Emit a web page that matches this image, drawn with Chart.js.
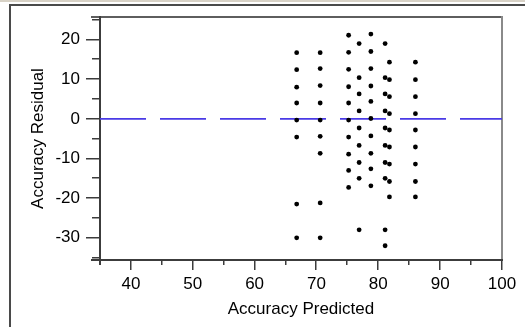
<!DOCTYPE html>
<html>
<head>
<meta charset="utf-8">
<script src="https://cdn.jsdelivr.net/npm/chart.js@4.4.1/dist/chart.umd.min.js"></script>
<style>
  html, body { margin: 0; padding: 0; background: #fff; overflow: hidden; }
  #wrap { width: 525px; height: 327px; }
</style>
</head>
<body>
<div id="wrap"><canvas id="residChart" width="525" height="327"></canvas></div>
<script>
// predicted accuracy (x) and residual (y) for every point, column by column
const predicted = [
  66.8, 66.8, 66.8, 66.8, 66.8, 66.8, 66.8, 66.8,
  70.6, 70.6, 70.6, 70.6, 70.6, 70.6, 70.6, 70.6, 70.6,
  75.2, 75.2, 75.2, 75.2, 75.2, 75.2, 75.2, 75.2, 75.2, 75.2,
  76.9, 76.9, 76.9, 76.9, 76.9, 76.9, 76.9, 76.9, 76.9,
  78.8, 78.8, 78.8, 78.8, 78.8, 78.8, 78.8, 78.8, 78.8, 78.8,
  81.1, 81.1, 81.1, 81.1, 81.1, 81.1, 81.1, 81.1, 81.1, 81.1,
  81.8, 81.8, 81.8, 81.8, 81.8, 81.8, 81.8, 81.8, 81.8,
  86.0, 86.0, 86.0, 86.0, 86.0, 86.0, 86.0, 86.0, 86.0
];
const residual = [
  16.7, 12.4, 8.0, 4.0, -0.3, -4.6, -21.5, -30.0,
  16.7, 12.7, 8.4, 4.0, -0.3, -4.4, -8.7, -21.2, -30.0,
  21.1, 16.8, 12.5, 8.1, 4.0, -0.3, -4.6, -8.9, -13.0, -17.3,
  19.0, 10.4, 6.3, 2.0, -2.3, -6.7, -11.0, -15.0, -28.0,
  21.4, 17.0, 12.7, 8.3, 4.4, 0.1, -4.3, -8.7, -12.6, -16.9,
  19.0, 10.4, 6.3, 2.0, -2.3, -6.7, -11.0, -15.0, -28.0, -32.0,
  14.3, 9.9, 5.6, 1.3, -2.8, -7.1, -11.4, -15.8, -19.7,
  14.3, 9.9, 5.6, 1.3, -2.8, -7.1, -11.4, -15.8, -19.7
];

// axes
const xRange = [35, 100];
const yRange = [-35.6, 25.7];
const xTicks = [40, 50, 60, 70, 80, 90, 100];
const yTicks = [-30, -20, -10, 0, 10, 20];
const xMinor = [35, 45, 55, 65, 75, 85, 95];
const yMinor = [-35, -25, -15, -5, 5, 15, 25];
const zeroLine = 0;

const points = predicted.map((p, i) => ({ x: p, y: residual[i] }));

// frame, tick marks and the page border lines (as in the original screenshot)
const framePlugin = {
  id: "frame",
  beforeDatasetsDraw(chart) {
    const c = chart.ctx;
    const { left, right, top, bottom } = chart.chartArea;
    const xs = chart.scales.x;
    const ys = chart.scales.y;
    c.save();
    // window border
    c.fillStyle = "#d8d2c6";
    c.fillRect(0, 0, 525, 2);
    c.fillStyle = "#4a4a4a";
    c.fillRect(10, 4, 515, 2);
    c.fillRect(9, 4, 2, 323);
    // top + right frame
    c.fillStyle = "#5e5e5e";
    c.fillRect(left - 9, top - 1, right - left + 10, 2);
    c.fillStyle = "#8a8a8a";
    c.fillRect(right - 1, top - 1, 2, bottom - top + 2);
    // axes
    c.fillStyle = "#3c3c3c";
    c.fillRect(left - 1, top - 1, 2, bottom - top + 6);
    c.fillRect(left - 9, bottom - 1, right - left + 10, 2);
    // y ticks
    yTicks.forEach(v => c.fillRect(left - 14, Math.round(ys.getPixelForValue(v)) - 1, 14, 1.5));
    yMinor.forEach(v => c.fillRect(left - 8, Math.round(ys.getPixelForValue(v)) - 1, 8, 1.5));
    // x ticks
    xTicks.forEach(v => c.fillRect(Math.round(xs.getPixelForValue(v)) - 1, bottom, 1.5, 10));
    xMinor.forEach(v => c.fillRect(Math.round(xs.getPixelForValue(v)) - 1, bottom, 1.5, 5));
    c.restore();
  }
};

const ctx = document.getElementById("residChart").getContext("2d");

new Chart(ctx, {
  type: "scatter",
  data: {
    datasets: [
      {
        label: "Residual",
        data: points,
        backgroundColor: "#000",
        borderColor: "#000",
        pointRadius: 2.4,
        pointBorderWidth: 0,
        order: 1
      },
      {
        type: "line",
        label: "Zero",
        data: [{ x: xRange[0], y: zeroLine }, { x: xRange[1], y: zeroLine }],
        borderColor: "#4a3ae6",
        borderWidth: 1.6,
        borderDash: [46, 14],
        pointRadius: 0,
        fill: false,
        order: 2
      }
    ]
  },
  options: {
    responsive: false,
    animation: false,
    layout: { padding: { left: 0, top: 17, right: 23, bottom: 0 } },
    plugins: {
      legend: { display: false },
      tooltip: { enabled: false }
    },
    scales: {
      x: {
        type: "linear",
        min: xRange[0],
        max: xRange[1],
        afterBuildTicks: s => { s.ticks = xTicks.map(v => ({ value: v })); },
        afterFit: s => { s.height = 67; s.paddingLeft = 0; s.paddingRight = 0; },
        grid: { display: false, drawTicks: false, tickLength: 0 },
        border: { display: false },
        ticks: {
          color: "#000",
          padding: 14,
          maxRotation: 0,
          autoSkip: false,
          font: { family: "Liberation Sans, Arial, sans-serif", size: 17 }
        },
        title: {
          display: true,
          text: "Accuracy Predicted",
          color: "#000",
          padding: { top: 0, bottom: 7 },
          font: { family: "Liberation Sans, Arial, sans-serif", size: 17 }
        }
      },
      y: {
        type: "linear",
        min: yRange[0],
        max: yRange[1],
        afterBuildTicks: s => { s.ticks = yTicks.map(v => ({ value: v })); },
        afterFit: s => { s.width = 100; s.paddingTop = 0; s.paddingBottom = 0; },
        grid: { display: false, drawTicks: false, tickLength: 0 },
        border: { display: false },
        ticks: {
          color: "#000",
          padding: 20,
          autoSkip: false,
          font: { family: "Liberation Sans, Arial, sans-serif", size: 17 }
        },
        title: {
          display: true,
          text: "Accuracy Residual",
          color: "#000",
          padding: { top: 28, bottom: 0 },
          font: { family: "Liberation Sans, Arial, sans-serif", size: 17 }
        }
      }
    }
  },
  plugins: [framePlugin]
});
</script>
</body>
</html>
